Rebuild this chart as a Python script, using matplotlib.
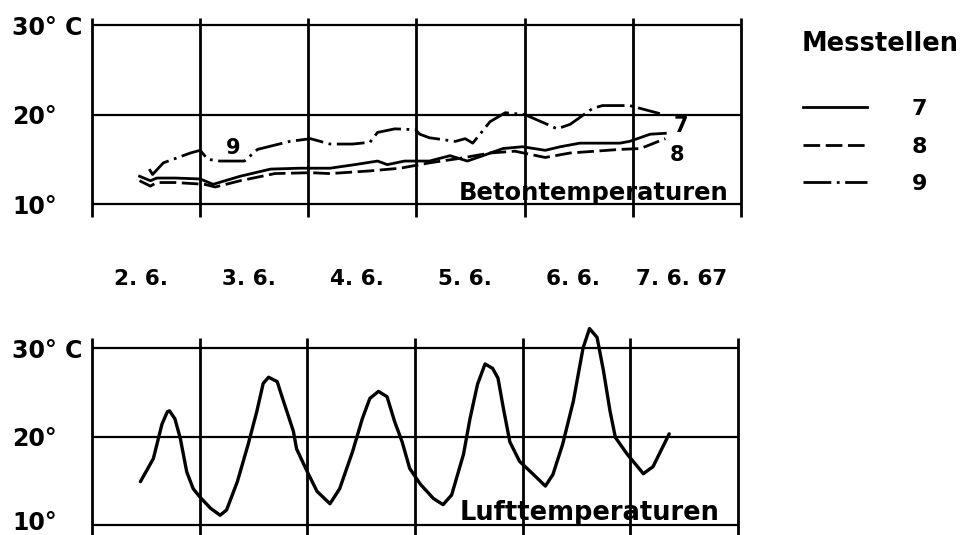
import matplotlib
matplotlib.use("Agg")
import matplotlib.pyplot as plt

plt.rcParams['font.family'] = ['DejaVu Sans']
plt.rcParams['font.weight'] = 'bold'
plt.rcParams['lines.scale_dashes'] = False

# day axis: 0 = start of 2.6., 6 = end of 7.6.67
day_labels = ['2. 6.', '3. 6.', '4. 6.', '5. 6.', '6. 6.', '7. 6. 67']
y_labels = ['10°', '20°', '30° C']

# Betontemperaturen, Messstelle 7 / 8 / 9
t7 = [0.44, 0.54, 0.60, 0.77, 1.00, 1.12, 1.37, 1.65, 1.92, 2.20, 2.43, 2.64, 2.73, 2.89,
      3.12, 3.31, 3.47, 3.59, 3.80, 3.98, 4.19, 4.33, 4.51, 4.88, 4.97, 5.16, 5.30]
v7 = [13.1, 12.6, 12.9, 12.9, 12.8, 12.2, 13.1, 13.9, 14.0, 14.0, 14.4, 14.8, 14.4, 14.8,
      14.8, 15.4, 14.8, 15.3, 16.2, 16.4, 16.0, 16.4, 16.8, 16.8, 17.0, 17.8, 17.9]

t8 = [0.44, 0.54, 0.60, 0.77, 1.04, 1.14, 1.37, 1.69, 2.02, 2.20, 2.57, 2.85, 3.12, 3.40,
      3.68, 3.91, 4.19, 4.42, 4.88, 5.07, 5.30]
v8 = [12.6, 12.0, 12.4, 12.4, 12.2, 11.9, 12.6, 13.4, 13.5, 13.4, 13.7, 14.0, 14.6, 15.1,
      15.7, 15.9, 15.2, 15.7, 16.1, 16.2, 17.3]

t9 = [0.53, 0.56, 0.66, 0.91, 1.00, 1.07, 1.18, 1.41, 1.53, 1.83, 2.02, 2.20, 2.41, 2.57,
      2.64, 2.80, 2.99, 3.03, 3.12, 3.36, 3.45, 3.52, 3.68, 3.82, 4.00, 4.19, 4.30, 4.42,
      4.63, 4.72, 4.97, 5.25]
v9 = [13.9, 13.3, 14.6, 15.7, 16.0, 15.0, 14.8, 14.8, 16.1, 17.0, 17.3, 16.7, 16.7, 16.9,
      18.0, 18.4, 18.3, 17.8, 17.4, 17.0, 17.3, 16.8, 19.2, 20.2, 20.0, 19.0, 18.4, 18.9,
      20.7, 21.0, 21.0, 20.1]

# Lufttemperaturen
tl = [0.45, 0.57, 0.65, 0.70, 0.72, 0.77, 0.82, 0.88, 0.94, 1.00, 1.10, 1.19, 1.25, 1.35,
      1.45, 1.53, 1.59, 1.64, 1.72, 1.77, 1.87, 1.90, 2.00, 2.09, 2.21, 2.30, 2.42, 2.51,
      2.58, 2.66, 2.74, 2.81, 2.88, 2.95, 3.05, 3.17, 3.26, 3.34, 3.45, 3.51, 3.58, 3.65,
      3.72, 3.77, 3.82, 3.88, 3.97, 4.10, 4.21, 4.28, 4.37, 4.47, 4.56, 4.62, 4.69, 4.75,
      4.81, 4.86, 4.97, 5.12, 5.21, 5.36]
vl = [14.9, 17.5, 21.4, 22.8, 22.9, 22.0, 19.8, 16.0, 14.1, 13.2, 11.9, 11.1, 11.7, 14.9,
      19.1, 22.8, 26.0, 26.7, 26.2, 24.3, 20.6, 18.6, 16.0, 13.8, 12.4, 14.1, 18.3, 22.0,
      24.3, 25.1, 24.5, 21.7, 19.4, 16.4, 14.6, 13.0, 12.3, 13.4, 18.0, 22.0, 25.9, 28.2,
      27.7, 26.6, 23.2, 19.4, 17.2, 15.7, 14.4, 15.7, 19.1, 24.0, 30.0, 32.2, 31.2, 27.4,
      22.9, 19.9, 18.0, 15.8, 16.6, 20.3]

fig = plt.figure(figsize=(9.63, 5.35), dpi=100)
ax1 = fig.add_axes([0.0955, 0.5936, 0.674, 0.373])
ax2 = fig.add_axes([0.0955, 0.0, 0.671, 0.3925])


def grid_frame(ax, ylo, yhi, vtop, low_tick=10):
    ax.set_xlim(0, 6)
    ax.set_ylim(ylo, yhi)
    for s in ax.spines.values():
        s.set_visible(False)
    ax.hlines([10, 20, 30], 0, 6, color='black', lw=1.6, clip_on=False)
    ax.vlines(range(7), ylo, vtop, color='black', lw=2.0, clip_on=False)
    ax.set_yticks([low_tick, 20, 30], y_labels)
    ax.tick_params(axis='y', length=0, pad=57.6, labelsize=17)
    for lab in ax.get_yticklabels():
        lab.set_horizontalalignment('left')
        lab.set_verticalalignment('center_baseline')
    if low_tick != 10:
        # lowest label sits at the bottom edge of the figure
        ax.get_yticklabels()[0].set_verticalalignment('baseline')


grid_frame(ax1, 8.5, 30.8, 30.8)
grid_frame(ax2, 8.87, 32.6, 31.1, low_tick=9.45)

l7, = ax1.plot(t7, v7, color='black', lw=2.0, solid_joinstyle='round', label='7')
l8, = ax1.plot(t8, v8, color='black', lw=2.0, dashes=(12, 4), label='8')
l9, = ax1.plot(t9, v9, color='black', lw=2.0, dashes=(20, 4, 2, 4), label='9')

ax1.set_xticks([d + 0.45 for d in range(6)], day_labels)
ax1.tick_params(axis='x', length=0, pad=37, labelsize=15.5)

ax1.text(1.31, 15.55, '9', fontsize=15, ha='center', va='baseline')
ax1.text(5.44, 18.1, '7', fontsize=15, ha='center', va='baseline')
ax1.text(5.41, 14.8, '8', fontsize=15, ha='center', va='baseline')
ax1.text(5.88, 10.45, 'Betontemperaturen', fontsize=17.5, ha='right', va='baseline')

ax2.plot(tl, vl, color='black', lw=2.4, solid_joinstyle='round', solid_capstyle='round',
         clip_on=False)
ax2.set_xticks([])
ax2.text(5.83, 10.56, 'Lufttemperaturen', fontsize=18.5, ha='right', va='baseline')

fig.text(802 / 963, 1 - 44 / 535, 'Messtellen', fontsize=18.5, ha='left', va='center')
ax1.legend(handles=[l7, l8, l9], loc='upper left', bbox_to_anchor=(803 / 963, 1 - 99 / 535),
           bbox_transform=fig.transFigure, frameon=False, borderpad=0, borderaxespad=0,
           fontsize=16, handlelength=2.9, handletextpad=2.0, labelspacing=0.79)

fig.savefig('out.png', dpi=100)
